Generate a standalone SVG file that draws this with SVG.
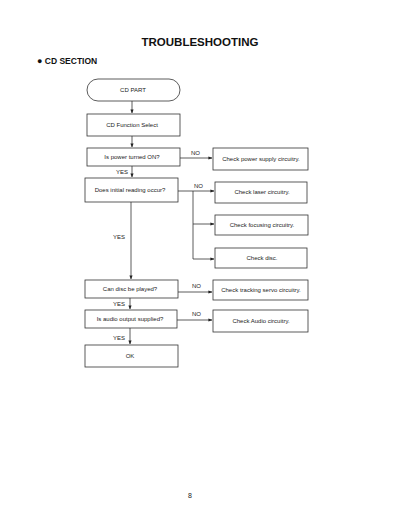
<svg xmlns="http://www.w3.org/2000/svg" width="400" height="518" viewBox="0 0 400 518">
<defs>
<style>
.bx{fill:none;stroke:#333;stroke-width:0.8}
.ln{fill:none;stroke:#333;stroke-width:0.8}
.t{font-family:"Liberation Sans",Arial,sans-serif;font-size:6px;fill:#222;text-anchor:middle}
.lb{font-family:"Liberation Sans",Arial,sans-serif;font-size:6px;fill:#222}
</style>
<marker id="ah" viewBox="0 0 10 10" refX="9" refY="5" markerWidth="5" markerHeight="5" orient="auto"><path d="M0,1 L10,5 L0,9 Z" fill="#222"/></marker>
</defs>
<rect width="400" height="518" fill="#fff"/>
<text x="200" y="46" font-family="'Liberation Sans',Arial,sans-serif" font-size="11.5" font-weight="bold" text-anchor="middle" fill="#111">TROUBLESHOOTING</text>
<text x="37" y="64" font-family="'Liberation Sans',Arial,sans-serif" font-size="8.5" font-weight="bold" fill="#111"><tspan font-size="9">●</tspan> CD SECTION</text>

<g id="n-cdpart"><rect class="bx" x="87" y="79" width="93" height="22" rx="11"/><text class="t" x="133" y="92">CD PART</text></g>
<g id="n-select"><rect class="bx" x="87" y="114" width="93" height="22"/><text class="t" x="132" y="127">CD Function Select</text></g>
<g id="n-power"><rect class="bx" x="87" y="148" width="93" height="18"/><text class="t" x="132" y="159">Is power turned ON?</text></g>
<g id="n-psu"><rect class="bx" x="213" y="148" width="95" height="22"/><text class="t" x="261" y="161">Check power supply circuitry.</text></g>
<g id="n-read"><rect class="bx" x="85" y="178" width="93" height="24"/><text class="t" x="130" y="192">Does initial reading occur?</text></g>
<g id="n-laser"><rect class="bx" x="215" y="182" width="92" height="21"/><text class="t" x="262" y="194">Check laser circuitry.</text></g>
<g id="n-focus"><rect class="bx" x="215" y="215" width="93" height="20"/><text class="t" x="262" y="227">Check focusing circuitry.</text></g>
<g id="n-disc"><rect class="bx" x="215" y="248" width="92" height="20"/><text class="t" x="262" y="260">Check disc.</text></g>
<g id="n-play"><rect class="bx" x="85" y="280" width="93" height="18"/><text class="t" x="130" y="291">Can disc be played?</text></g>
<g id="n-track"><rect class="bx" x="213" y="280" width="95" height="20"/><text class="t" x="261" y="292">Check tracking servo circuitry.</text></g>
<g id="n-audio"><rect class="bx" x="85" y="310" width="92" height="18"/><text class="t" x="130" y="321">Is audio output supplied?</text></g>
<g id="n-chkaudio"><rect class="bx" x="213" y="310" width="95" height="22"/><text class="t" x="261" y="323">Check Audio circuitry.</text></g>
<g id="n-ok"><rect class="bx" x="85" y="345" width="93" height="22"/><text class="t" x="130" y="358">OK</text></g>

<g id="connectors">
<line class="ln" x1="132" y1="101" x2="132" y2="113" marker-end="url(#ah)"/>
<line class="ln" x1="132" y1="136" x2="132" y2="147" marker-end="url(#ah)"/>
<line class="ln" x1="180" y1="158" x2="212" y2="158" marker-end="url(#ah)"/>
<line class="ln" x1="132" y1="166" x2="132" y2="177" marker-end="url(#ah)"/>
<polyline class="ln" points="178,191 193,191 193,259"/>
<line class="ln" x1="193" y1="191" x2="214" y2="191" marker-end="url(#ah)"/>
<line class="ln" x1="193" y1="224" x2="214" y2="224" marker-end="url(#ah)"/>
<line class="ln" x1="193" y1="259" x2="214" y2="259" marker-end="url(#ah)"/>
<line class="ln" x1="131" y1="202" x2="131" y2="279" marker-end="url(#ah)"/>
<line class="ln" x1="178" y1="292" x2="212" y2="292" marker-end="url(#ah)"/>
<line class="ln" x1="130" y1="298" x2="130" y2="309" marker-end="url(#ah)"/>
<line class="ln" x1="177" y1="320" x2="212" y2="320" marker-end="url(#ah)"/>
<line class="ln" x1="130" y1="328" x2="130" y2="344" marker-end="url(#ah)"/>
<text class="lb" x="191" y="155">NO</text>
<text class="lb" x="116" y="174">YES</text>
<text class="lb" x="194" y="188">NO</text>
<text class="lb" x="113" y="239">YES</text>
<text class="lb" x="192" y="288">NO</text>
<text class="lb" x="113" y="306">YES</text>
<text class="lb" x="192" y="316">NO</text>
<text class="lb" x="113" y="340">YES</text>
</g>
<text x="188" y="498" font-family="'Liberation Sans',Arial,sans-serif" font-size="7" fill="#222">8</text>
</svg>
